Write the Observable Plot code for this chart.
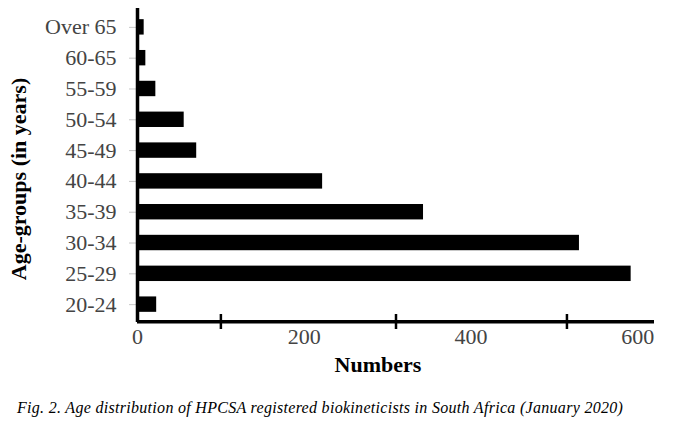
<!DOCTYPE html>
<html>
<head>
<meta charset="utf-8">
<script src="https://cdn.jsdelivr.net/npm/d3@7"></script>
<script src="https://cdn.jsdelivr.net/npm/@observablehq/plot@0.6"></script>
<style>
  html, body { margin: 0; padding: 0; background: #fff; }
  #chart { width: 685px; height: 428px; position: relative; }
  #caption {
    position: absolute; left: 17px; top: 399px;
    font-family: "Liberation Serif", "DejaVu Serif", serif;
    font-style: italic; font-size: 16px; letter-spacing: 0.3px; color: #000; white-space: nowrap;
  }
</style>
</head>
<body>
<div id="chart"></div>
<script>
// Age groups, top to bottom as drawn
const ageGroups = ["Over 65", "60-65", "55-59", "50-54", "45-49", "40-44", "35-39", "30-34", "25-29", "20-24"];
// Number of registered biokineticists per age group
const counts = [8, 10, 22, 56, 71, 222, 343, 530, 592, 23];
// X axis labelled ticks and unlabelled tick marks
const xTickLabels = [0, 200, 400, 600];
const xTickMarks = [100, 310, 515];

const data = ageGroups.map((g, i) => ({group: g, count: counts[i]}));

const W = 685, H = 385;
const plot = Plot.plot({
  width: W,
  height: H,
  marginLeft: 137,
  marginRight: 31,
  marginTop: 9,
  marginBottom: 63,
  style: {fontFamily: "Liberation Serif, serif", background: "#fff"},
  x: {domain: [0, 620], range: [137, 654]},
  y: {domain: ageGroups, paddingInner: 0.5, paddingOuter: 0.33, round: false, label: null},
  marks: [
    Plot.barX(data, {x: "count", y: "group", fill: "#000"}),
    Plot.axisY({
      tickSize: 8, tickPadding: 13, fontSize: 22, color: "#444",
      stroke: "#c8c8c8", label: null
    }),
    Plot.axisX({
      ticks: xTickLabels, tickSize: 0, tickPadding: 6, fontSize: 22,
      color: "#444", label: null
    }),
    Plot.ruleX(xTickMarks, {stroke: "#000", strokeWidth: 2.5, insetTop: 305, insetBottom: -7}),
    // bottom axis line
    Plot.rect([0], {x1: () => 0, x2: () => 620, fill: "#000", insetTop: 311, insetBottom: -1.5}),
    // left axis line
    Plot.ruleX([0], {stroke: "#000", strokeWidth: 3.5, insetTop: -1}),
    Plot.text(["Age-groups (in years)"], {
      frameAnchor: "left", textAnchor: "middle", lineAnchor: "middle",
      rotate: -90, dx: -119, dy: 13,
      fontWeight: "bold", fontSize: 22, fill: "#000"
    }),
    Plot.text(["Numbers"], {
      frameAnchor: "bottom", textAnchor: "middle", dx: -18, dy: 49,
      fontWeight: "bold", fontSize: 22, fill: "#000"
    })
  ]
});
document.getElementById("chart").appendChild(plot);
const cap = document.createElement("div");
cap.id = "caption";
cap.textContent = "Fig. 2. Age distribution of HPCSA registered biokineticists in South Africa (January 2020)";
document.getElementById("chart").appendChild(cap);
</script>
</body>
</html>
